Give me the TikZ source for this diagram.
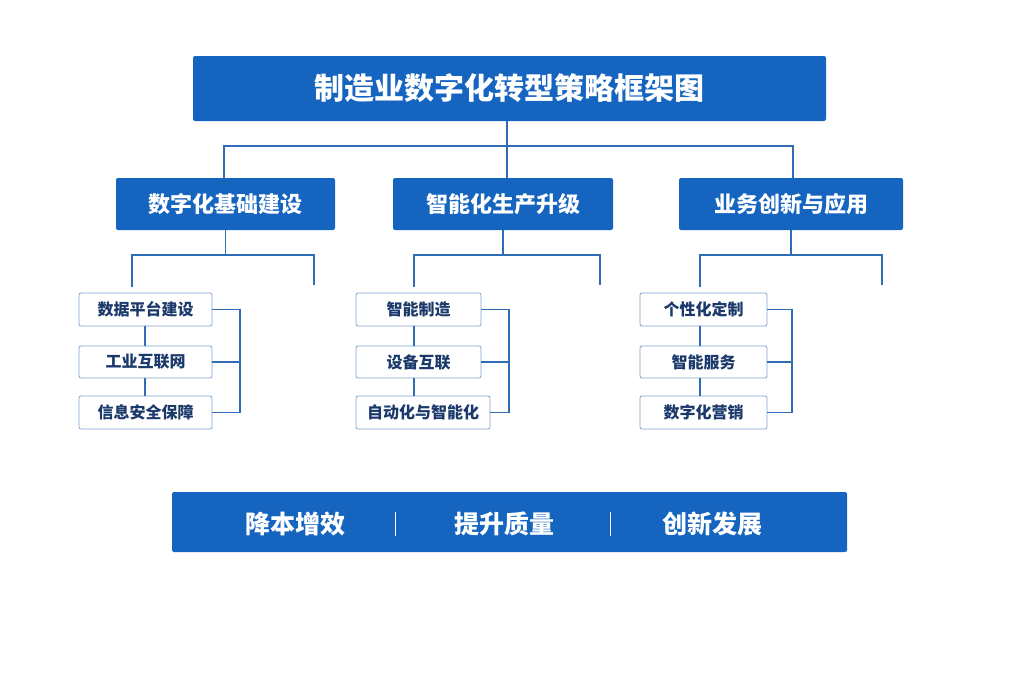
\documentclass[tikz,border=0pt]{standalone}
\usepackage{fontspec}
\setmainfont{Noto Sans CJK SC}
\usepackage{tikz}
\definecolor{mainblue}{HTML}{1565C0}
\definecolor{lineblue}{HTML}{2E6DB4}
\definecolor{navy}{HTML}{1B3A6B}
\definecolor{boxedge}{HTML}{7FA3D1}
\begin{document}
\begin{tikzpicture}[
	x=1pt, y=-1pt,
	title/.style={draw=none, fill=mainblue, rounded corners=2pt, text=white, font=\bfseries\fontsize{30}{34}\selectfont, inner sep=0pt},
	level/.style={fill=mainblue, rounded corners=2pt, text=white, font=\bfseries\fontsize{22}{26}\selectfont, inner sep=0pt},
	leaf/.style={draw=boxedge, line width=0.8pt, fill=white, rounded corners=2pt, text=navy, font=\bfseries\fontsize{16}{19}\selectfont, inner sep=0pt},
	link/.style={draw=lineblue, line width=1.4pt}
	]
	\useasboundingbox (0,0) rectangle (1024,683);
	% title
	\node[title, minimum width=633pt, minimum height=65pt] (top) at (509.5,88.5) {制造业数字化转型策略框架图};
	% level 1
	\node[level, minimum width=219pt, minimum height=52pt] (digi) at (225.5,204) {数字化基础建设};
	\node[level, minimum width=220pt, minimum height=52pt] (smart) at (503,204) {智能化生产升级};
	\node[level, minimum width=224pt, minimum height=52pt] (biz) at (791,204) {业务创新与应用};
	\coordinate (tj) at (507,146);
	\draw[link] (top.south -| tj) -- (tj);
	\draw[link] (digi.north -| 224,0) -- (224,146) -- (793,146) -- (biz.north -| 793,0);
	\draw[link] (smart.north -| tj) -- (tj);
	% leaves
	\node[leaf, minimum width=133pt, minimum height=33pt] (a1) at (145.5,309.5) {数据平台建设};
	\node[leaf, minimum width=133pt, minimum height=32pt] (a2) at (145.5,362) {工业互联网};
	\node[leaf, minimum width=133pt, minimum height=33pt] (a3) at (145.5,412.5) {信息安全保障};
	\node[leaf, minimum width=125pt, minimum height=33pt] (b1) at (418.5,309.5) {智能制造};
	\node[leaf, minimum width=125pt, minimum height=32pt] (b2) at (418.5,362) {设备互联};
	\node[leaf, minimum width=134pt, minimum height=33pt] (b3) at (423,412.5) {自动化与智能化};
	\node[leaf, minimum width=127pt, minimum height=33pt] (c1) at (703.5,309.5) {个性化定制};
	\node[leaf, minimum width=127pt, minimum height=32pt] (c2) at (703.5,362) {智能服务};
	\node[leaf, minimum width=127pt, minimum height=33pt] (c3) at (703.5,412.5) {数字化营销};
	% branches
	\foreach \p/\l/\r/\cx/\bx/\f/\s/\t in {digi/132/314/145/240/a1/a2/a3, smart/414/600/414/509/b1/b2/b3, biz/700/882/700/792/c1/c2/c3}{
		\draw[link] (\p.south) -- (\p.south |- 0,255);
		\draw[link] (\l,287) -- (\l,255) -- (\r,255) -- (\r,285);
		\draw[link] (\f.south -| \cx,0) -- (\s.north -| \cx,0);
		\draw[link] (\s.south -| \cx,0) -- (\t.north -| \cx,0);
		\draw[link] (\f.east) -- (\f.east -| \bx,0) -- (\t.east -| \bx,0) -- (\t.east);
		\draw[link] (\s.east) -- (\s.east -| \bx,0);
	}
	% bottom bar
	\node[level, minimum width=675pt, minimum height=60pt] (bar) at (509.5,522) {};
	\node[text=white, font=\bfseries\fontsize{25}{29}\selectfont] (g1) at (295,524) {降本增效};
	\node[text=white, font=\bfseries\fontsize{25}{29}\selectfont] (g2) at (504,524) {提升质量};
	\node[text=white, font=\bfseries\fontsize{25}{29}\selectfont] (g3) at (712,524) {创新发展};
	\draw[white, line width=1pt] (395,512) -- (395,536);
	\draw[white, line width=1pt] (610,512) -- (610,536);
\end{tikzpicture}
\end{document}
